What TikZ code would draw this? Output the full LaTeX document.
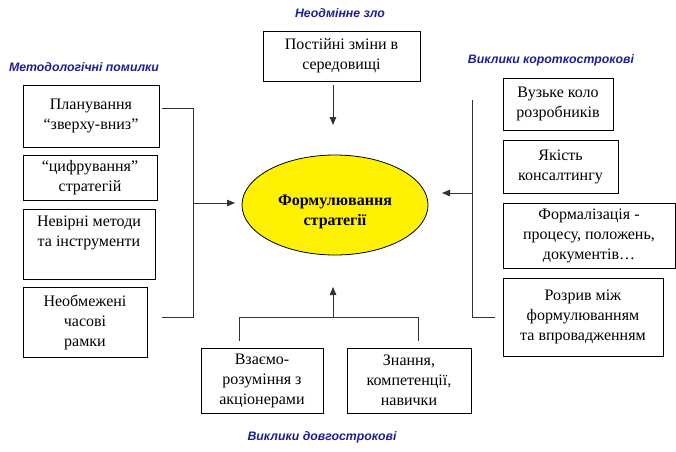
\documentclass[tikz,border=0pt]{standalone}
\usepackage{fontspec}
\setmainfont{Liberation Serif}
\newfontfamily\titlefont{Liberation Sans}
\usetikzlibrary{arrows.meta,shapes.geometric,calc}
\definecolor{ttlblue}{RGB}{30,30,150}
\definecolor{linegray}{RGB}{50,50,50}
\tikzset{
  box/.style={draw=black, line width=0.8pt, fill=white, align=center, inner sep=1pt,
    font=\fontsize{16}{20}\selectfont},
  ttl/.style={font=\titlefont\fontsize{12.3}{14}\selectfont\bfseries\itshape, text=ttlblue},
  bus/.style={draw=linegray, line width=0.8pt},
  arr/.style={bus, -{Triangle[length=8pt,width=6.5pt]}},
}
\begin{document}
\begin{tikzpicture}[x=1pt,y=-1pt]
\useasboundingbox (0,0) rectangle (676,451);
% titles
\node[ttl] (t1) at (340,13) {Неодмінне зло};
\node[ttl] (t2) at (84,67) {Методологічні помилки};
\node[ttl] (t3) at (551,60) {Виклики короткострокові};
\node[ttl] (t4) at (322,437) {Виклики довгострокові};
% central ellipse
\node[ellipse, draw=black, line width=0.8pt, fill=yellow, minimum width=186pt, minimum height=100pt] (E) at (335,205) {};
\node[align=center, font=\fontsize{16}{20}\selectfont\bfseries] (Etxt) at (335,212) {Формулювання\\стратегії};
% top
\node[box, minimum width=157pt, minimum height=50pt] (T) at (341.5,56) {Постійні зміни в\\середовищі};
% left
\node[box, minimum width=136pt, minimum height=62pt] (L1) at (91,116) {Планування\\“зверху-вниз”};
\node[box, minimum width=134pt, minimum height=45pt] (L2) at (90,177.5) {“цифрування”\\стратегій};
\node[box, minimum width=132pt, minimum height=70pt] (L3) at (89,244) {Невірні методи\\та інструменти\\\strut};
\node[box, minimum width=124pt, minimum height=70pt] (L4) at (85,322) {Необмежені\\часові\\рамки};
% right
\node[box, minimum width=110pt, minimum height=52pt] (R1) at (558,104) {Вузьке коло\\розробників};
\node[box, minimum width=115pt, minimum height=53pt] (R2) at (560.5,166.5) {Якість\\консалтингу};
\node[box, minimum width=172pt, minimum height=65pt] (R3) at (589,235.5) {Формалізація -\\процесу, положень,\\документів…};
\node[box, minimum width=160pt, minimum height=78pt] (R4) at (583,317) {Розрив між\\формулюванням\\та впровадженням};
% bottom
\node[box, minimum width=122pt, minimum height=65pt] (B1) at (262,380.5) {Взаємо-\\розуміння з\\акціонерами};
\node[box, minimum width=124pt, minimum height=65pt] (B2) at (409,380.5) {Знання,\\компетенції,\\навички};
% left bus
\coordinate (la) at (162,108);
\coordinate (lb) at (193,108);
\coordinate (lc) at (193,317);
\coordinate (ld) at (162,317);
\coordinate (lm) at (193,203);
\coordinate (lt) at (235,203);
\draw[bus] (la) -- (lb) -- (lc) -- (ld);
\draw[arr] (lm) -- (lt);
% right bus
\coordinate (ra) at (472,100);
\coordinate (rb) at (472,317);
\coordinate (rc) at (495,317);
\coordinate (rm) at (472,193);
\coordinate (rt) at (442,193);
\draw[bus] (ra) -- (rb) -- (rc);
\draw[arr] (rm) -- (rt);
% top arrow
\coordinate (ta) at (333,85);
\coordinate (tb) at (333,125);
\draw[arr] (ta) -- (tb);
% bottom bus
\coordinate (ba) at (239,341);
\coordinate (bb) at (239,317);
\coordinate (bc) at (418,317);
\coordinate (bd) at (418,341);
\coordinate (bm) at (333,317);
\coordinate (bt) at (333,287);
\draw[bus] (ba) -- (bb) -- (bc) -- (bd);
\draw[arr] (bm) -- (bt);
\end{tikzpicture}
\end{document}
